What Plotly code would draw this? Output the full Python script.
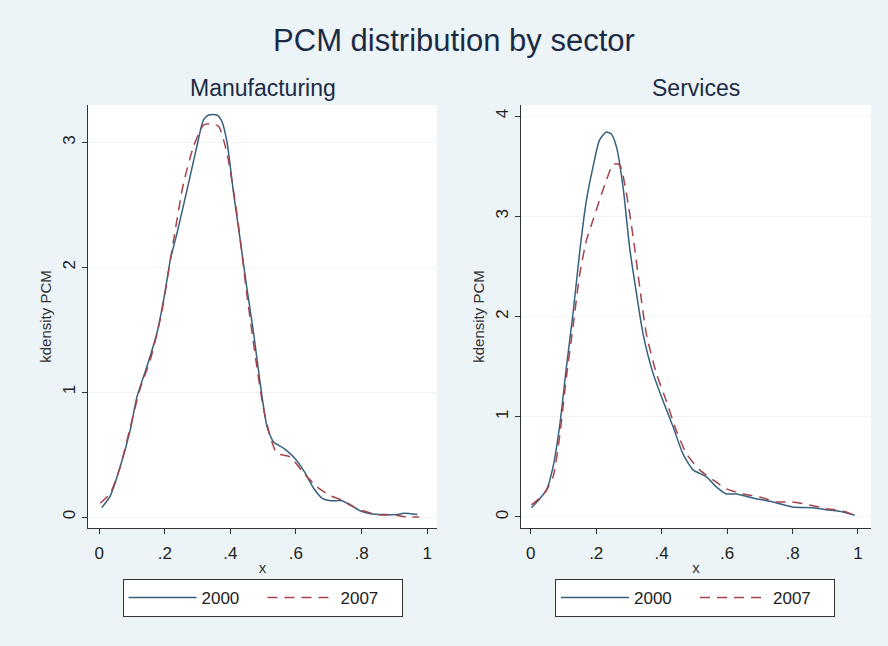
import plotly.graph_objects as go

# Kernel density estimates of PCM, Manufacturing sector
man_x_2000 = [0.008, 0.034, 0.064, 0.095, 0.115, 0.145, 0.176, 0.200, 0.217, 0.237, 0.268, 0.298,
              0.318, 0.334, 0.359, 0.374, 0.390, 0.410, 0.430, 0.450, 0.471, 0.491, 0.512, 0.532,
              0.563, 0.593, 0.624, 0.654, 0.680, 0.705, 0.740, 0.766, 0.797, 0.827, 0.868, 0.908,
              0.929, 0.970]
man_y_2000 = [0.075, 0.17, 0.40, 0.70, 0.96, 1.20, 1.47, 1.79, 2.06, 2.27, 2.62, 2.97,
              3.18, 3.22, 3.22, 3.17, 3.00, 2.59, 2.22, 1.84, 1.47, 1.07, 0.72, 0.60,
              0.55, 0.48, 0.37, 0.23, 0.15, 0.13, 0.13, 0.094, 0.048, 0.027, 0.02, 0.02,
              0.03, 0.02]

man_x_2007 = [0.003, 0.034, 0.064, 0.095, 0.125, 0.156, 0.190, 0.227, 0.257, 0.288, 0.318, 0.339,
              0.364, 0.390, 0.420, 0.450, 0.481, 0.500, 0.522, 0.542, 0.583, 0.624, 0.665, 0.705,
              0.746, 0.786, 0.847, 0.908, 0.939, 0.975]
man_y_2007 = [0.11, 0.19, 0.40, 0.72, 1.03, 1.26, 1.63, 2.22, 2.67, 2.97, 3.14, 3.15,
              3.13, 2.91, 2.43, 1.79, 1.20, 0.88, 0.64, 0.51, 0.48, 0.35, 0.24, 0.17,
              0.13, 0.067, 0.02, 0.013, 0.0, 0.0]

# Kernel density estimates of PCM, Services sector
ser_x_2000 = [0.002, 0.027, 0.048, 0.068, 0.089, 0.109, 0.129, 0.150, 0.170, 0.190, 0.210, 0.231,
              0.246, 0.262, 0.282, 0.302, 0.323, 0.343, 0.374, 0.404, 0.435, 0.465, 0.496, 0.537,
              0.567, 0.598, 0.628, 0.679, 0.740, 0.800, 0.863, 0.903, 0.954, 0.990]
ser_y_2000 = [0.093, 0.18, 0.27, 0.50, 0.93, 1.50, 2.03, 2.66, 3.16, 3.49, 3.76, 3.84,
              3.82, 3.69, 3.29, 2.69, 2.23, 1.83, 1.43, 1.16, 0.90, 0.63, 0.47, 0.40,
              0.30, 0.23, 0.23, 0.19, 0.15, 0.10, 0.093, 0.073, 0.05, 0.017]

ser_x_2007 = [0.002, 0.038, 0.068, 0.089, 0.109, 0.129, 0.150, 0.170, 0.190, 0.210, 0.231, 0.252,
              0.272, 0.292, 0.313, 0.333, 0.353, 0.384, 0.414, 0.445, 0.476, 0.516, 0.557, 0.598,
              0.649, 0.700, 0.750, 0.800, 0.852, 0.903, 0.954, 0.990]
ser_y_2007 = [0.12, 0.22, 0.40, 0.83, 1.40, 1.90, 2.43, 2.76, 2.96, 3.16, 3.36, 3.52,
              3.51, 3.23, 2.79, 2.29, 1.83, 1.43, 1.16, 0.86, 0.63, 0.47, 0.37, 0.28,
              0.23, 0.20, 0.15, 0.15, 0.12, 0.083, 0.06, 0.017]

x_tickvals = [0, 0.2, 0.4, 0.6, 0.8, 1]
x_ticktext = ["0", ".2", ".4", ".6", ".8", "1"]
man_yticks = [0, 1, 2, 3]
ser_yticks = [0, 1, 2, 3, 4]

FONT = "Liberation Sans, Arial, sans-serif"
BLUE = "#35607e"
RED = "#a4434c"
BG = "#edf4f7"
NAVY = "#1c2b45"

fig = go.Figure()

line_2000 = dict(color=BLUE, width=1.5, shape="spline", smoothing=0.6)
line_2007 = dict(color=RED, width=1.5, dash="10px,7px", shape="spline", smoothing=0.6)

fig.add_trace(go.Scatter(x=man_x_2000, y=man_y_2000, name="2000", mode="lines",
                         line=line_2000, xaxis="x", yaxis="y", legend="legend"))
fig.add_trace(go.Scatter(x=man_x_2007, y=man_y_2007, name="2007", mode="lines",
                         line=line_2007, xaxis="x", yaxis="y", legend="legend"))
fig.add_trace(go.Scatter(x=ser_x_2000, y=ser_y_2000, name="2000", mode="lines",
                         line=line_2000, xaxis="x2", yaxis="y2", legend="legend2"))
fig.add_trace(go.Scatter(x=ser_x_2007, y=ser_y_2007, name="2007", mode="lines",
                         line=line_2007, xaxis="x2", yaxis="y2", legend="legend2"))

W, H = 888, 646
y_dom = [1 - 528 / H, 1 - 105 / H]

xaxis_common = dict(
    tickvals=x_tickvals, ticktext=x_ticktext, ticks="outside", ticklen=5,
    tickcolor="#333333", showline=True, linecolor="#333333", linewidth=1,
    showgrid=False, zeroline=False, tickfont=dict(size=17, color="#222222"),
    title=dict(text="x", font=dict(size=15, color="#333333"), standoff=0),
    ticklabelstandoff=5,
)
yaxis_common = dict(
    ticks="outside", ticklen=5, tickcolor="#333333", showline=True,
    linecolor="#333333", linewidth=1, showgrid=True, gridcolor="#f0f4f5",
    gridwidth=1, zeroline=False, tickangle=-90,
    tickfont=dict(size=17, color="#222222"),
    title=dict(text="kdensity PCM", font=dict(size=15, color="#333333"), standoff=4),
)

legend_common = dict(
    orientation="h", y=1 - 598 / H, xanchor="center", yanchor="middle",
    bgcolor="white", bordercolor="#333333", borderwidth=1,
    font=dict(size=17, color="#222222"), itemwidth=68, entrywidth=56,
)

fig.update_layout(
    width=W, height=H,
    margin=dict(l=0, r=0, t=0, b=0),
    paper_bgcolor=BG, plot_bgcolor="white",
    font=dict(family=FONT),
    title=dict(text="PCM distribution by sector", x=454 / W, xanchor="center",
               y=1 - 40 / H, yanchor="middle",
               font=dict(size=31, color=NAVY, family=FONT)),
    xaxis=dict(domain=[88 / W, 437 / W], range=[-0.034, 1.03], anchor="y", **xaxis_common),
    yaxis=dict(domain=y_dom, range=[-0.088, 3.30], anchor="x", tickvals=man_yticks,
               **yaxis_common),
    xaxis2=dict(domain=[521 / W, 871 / W], range=[-0.03, 1.04], anchor="y2", **xaxis_common),
    yaxis2=dict(domain=y_dom, range=[-0.11, 4.11], anchor="x2", tickvals=ser_yticks,
                **yaxis_common),
    legend=dict(x=262.5 / W, **legend_common),
    legend2=dict(x=695 / W, **legend_common),
    annotations=[
        dict(text="Manufacturing", x=(88 + 437) / 2 / W, y=1 - 88 / H, xref="paper",
             yref="paper", showarrow=False, xanchor="center", yanchor="middle",
             font=dict(size=23, color=NAVY, family=FONT)),
        dict(text="Services", x=(521 + 871) / 2 / W, y=1 - 88 / H, xref="paper",
             yref="paper", showarrow=False, xanchor="center", yanchor="middle",
             font=dict(size=23, color=NAVY, family=FONT)),
    ],
)

fig.write_html("out.html")
